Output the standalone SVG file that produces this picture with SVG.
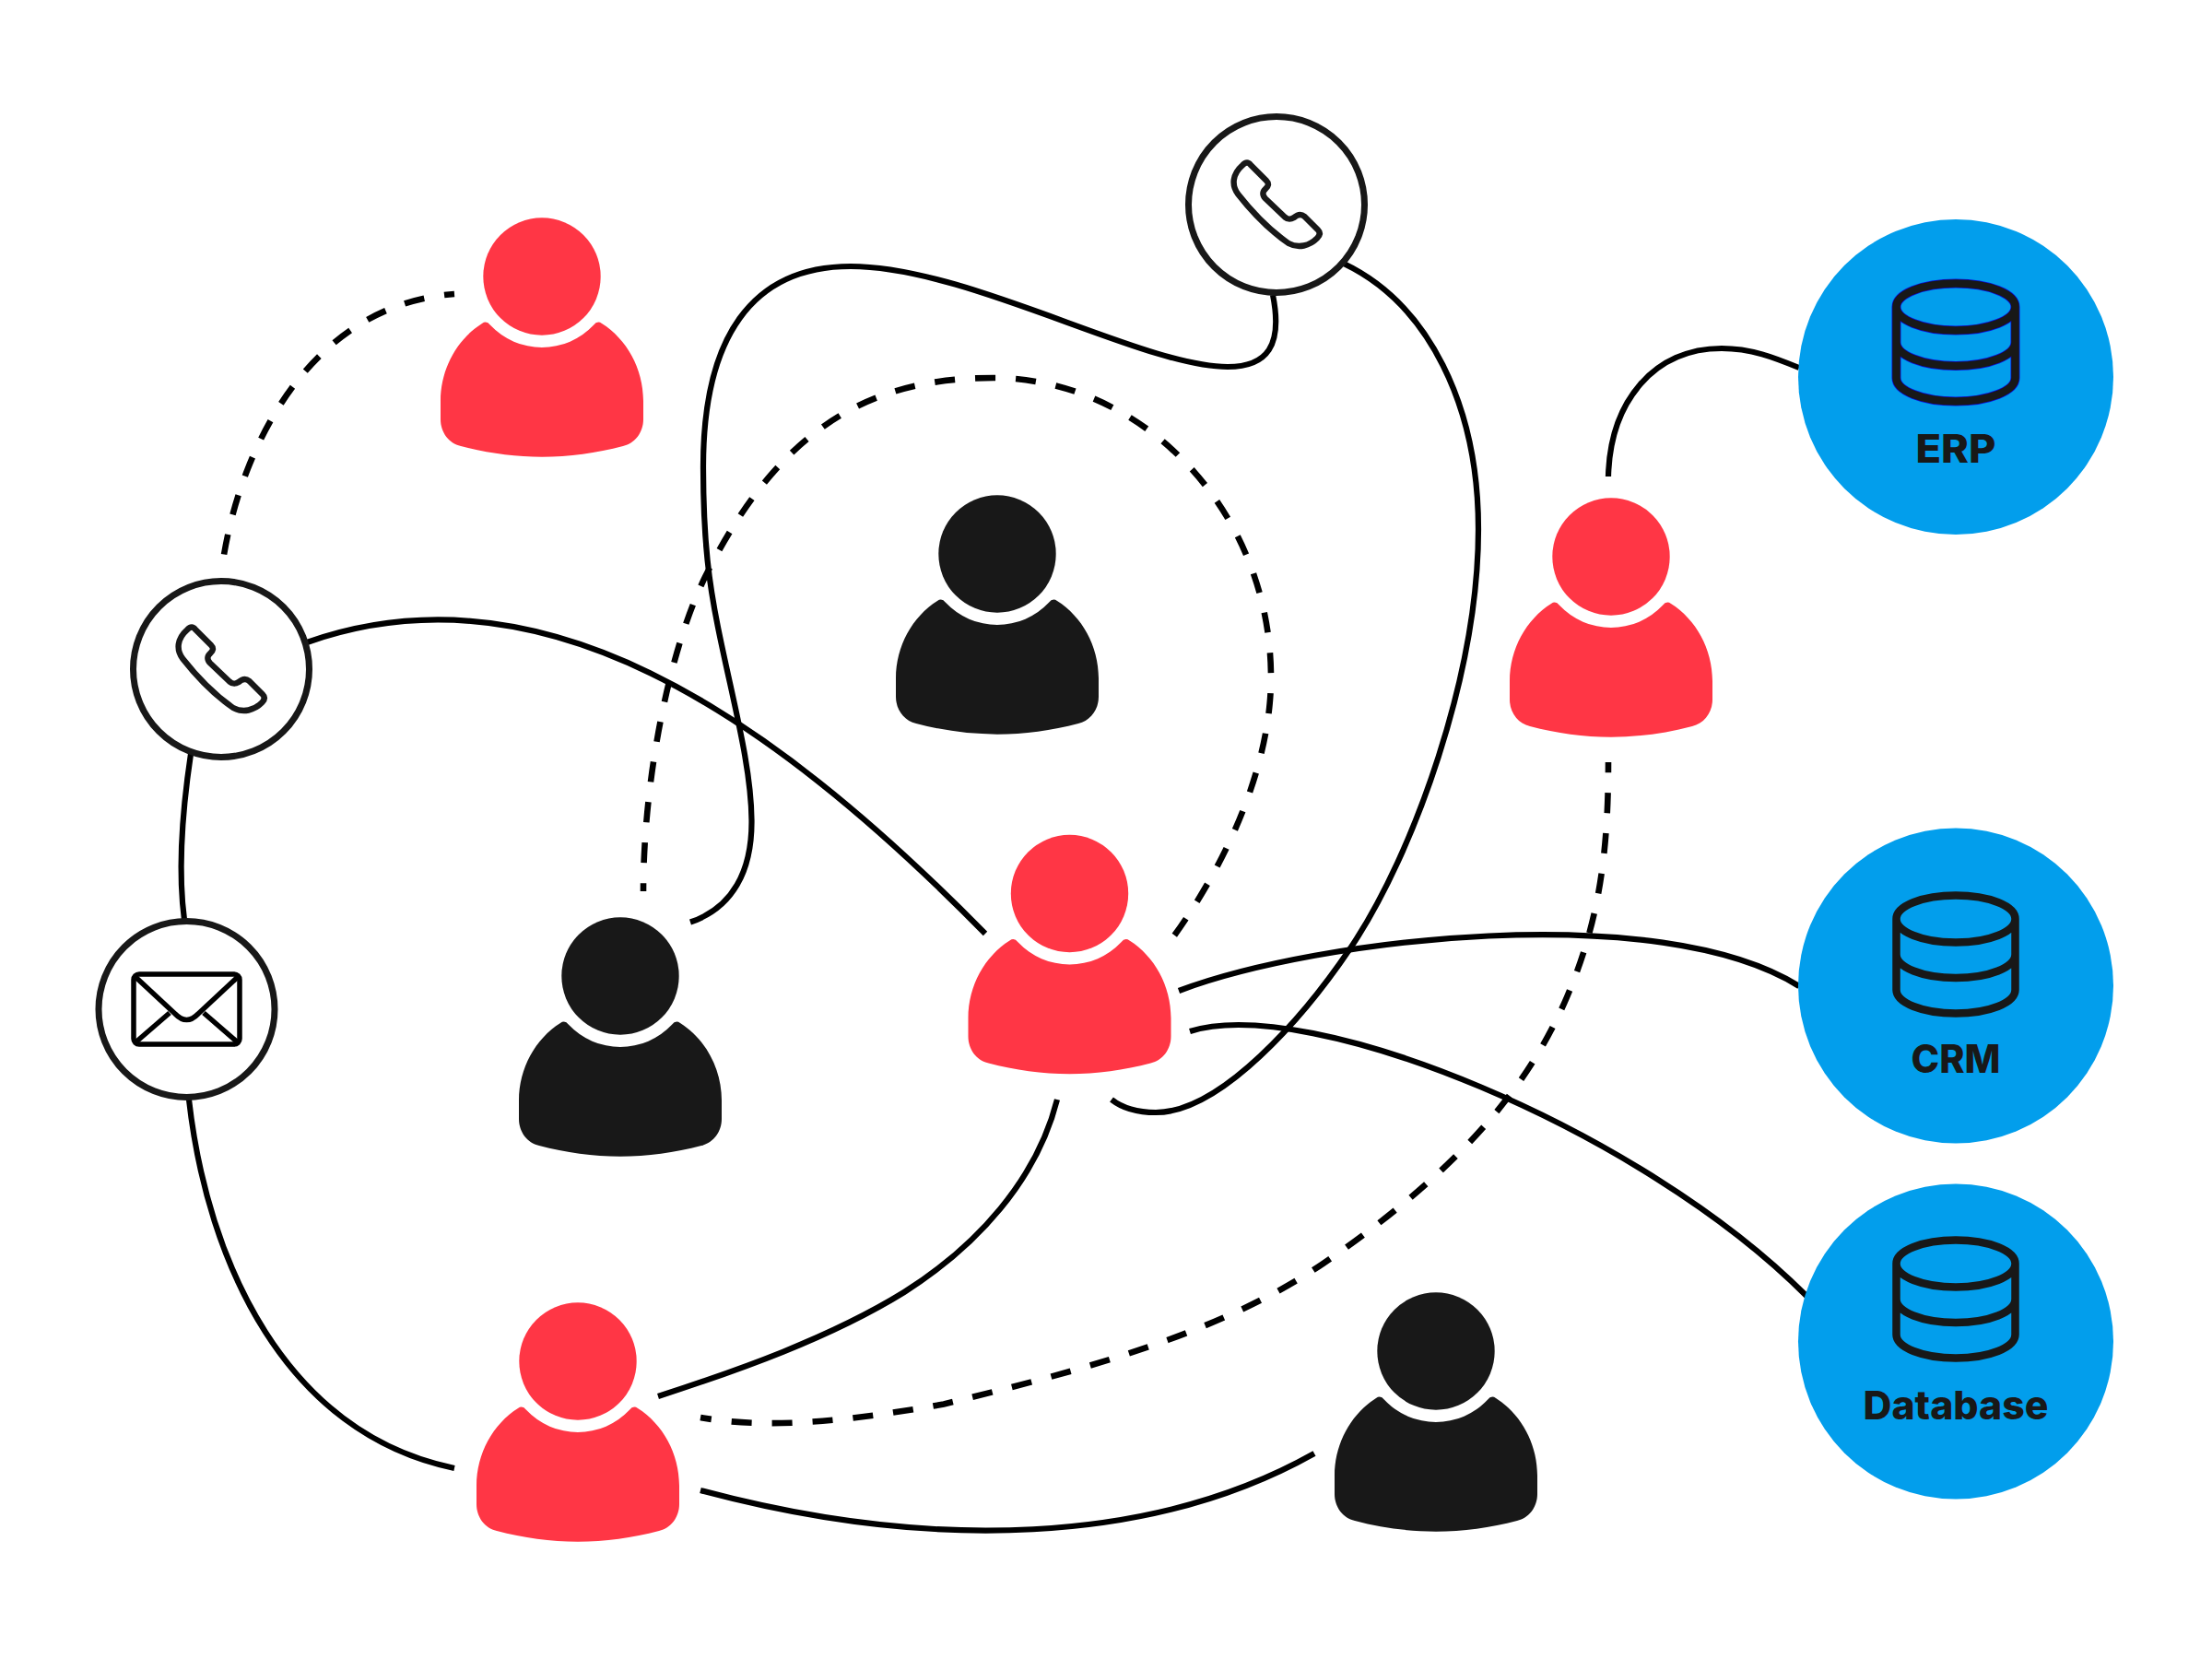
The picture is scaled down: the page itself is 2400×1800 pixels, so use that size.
<svg xmlns="http://www.w3.org/2000/svg" width="2400" height="1800" viewBox="0 0 2400 1800">
<style>
.conn{fill:none;stroke:#000;stroke-width:6.2}
.dash{stroke-width:6.6;stroke-dasharray:22 22}
.ring{fill:#fff;stroke:#181818;stroke-width:7}
.icon{fill:none;stroke:#181818;stroke-width:6.4;stroke-linejoin:round}
.mail{fill:none;stroke:#000;stroke-width:5.5;stroke-linejoin:round}
.db{fill:none;stroke:#181818;stroke-width:8.5}
.dbh{fill:none;stroke:#0c0cd8;stroke-width:10}
.blue{fill:#029eec}
.red{fill:#ff3645}
.blk{fill:#181818}
.lab{font-family:"Inter","Liberation Sans",sans-serif;font-weight:800;font-size:43px;fill:#181818;text-anchor:middle}
</style>
<defs>
<g id="person">
<circle cx="0" cy="0" r="63.700"/>
<path d="M-65 51 Q-60 47.500 -56 52.800 A77 77 0 0 0 56 52.800 Q60 47.500 65 51 C92 68 110 100 110 135 V155 C110 169 101 181 88 184 C30 199.500 -30 199.500 -88 184 C-101 181 -110 169 -110 155 V135 C-110 100 -92 68 -65 51Z"/>
</g>
<path id="phone" class="icon" d="M-32 -45.500 Q-30 -45.500 -28 -43 L-11 -26 C-8 -23 -8.500 -20 -12 -17 C-15.500 -14 -15.500 -10 -12 -6.500 L9 13.500 C12.500 16.500 15 16.500 19 14 C23 10.500 27 10 30.500 13 L45 27.500 C47.500 30 47.500 33 44 36.500 C36 44.500 24 48 13 42 C-7 28 -25 10 -41.700 -11.300 C-49 -21 -48 -33 -37 -42.700 Q-34.500 -45.500 -32 -45.500Z"/>
<path id="cyl" d="M-64.500 0 C-64.500 -14 -36 -25.500 0 -25.500 C36 -25.500 64.500 -14 64.500 0 C64.500 14 36 25.500 0 25.500 C-36 25.500 -64.500 14 -64.500 0 V77 C-64.500 91 -36 102.500 0 102.500 C36 102.500 64.500 91 64.500 77 V0 M-64.500 38.500 C-64.500 52.500 -36 64 0 64 C36 64 64.500 52.500 64.500 38.500"/>
</defs>
<rect width="2400" height="1800" fill="#fff"/>
<g id="connectors">
<path class="conn dash" stroke-dashoffset="11" d="M493 319 C340 330 262 480 242 608"/>
<path class="conn" d="M333 697 C585 608 830 770 1069 1013"/>
<path class="conn" d="M207 818 C197 885 193 945 200 998"/>
<path class="conn" d="M205 1193 C225 1370 310 1555 493 1593"/>
<path class="conn" d="M1381 320 C1392 375 1375 398 1332 398 C1240 398 1050 289 923 289 C815 289 763 367 763 506 C763 590 770 636 779 680.600 C795 760 815 830 815.500 890 C816 945 795 985 749 1000.500"/>
<path class="conn" d="M1458 286 C1550 330 1604 440 1604 574 C1604 730 1535 925 1465 1029 C1415 1103 1325 1207 1254 1207 C1236 1207 1220 1204 1206 1193"/>
<path class="conn dash" stroke-dashoffset="13" d="M698 967 C698 850 725 705 767 622 C850 458 950 410 1078 410 C1240 410 1379 555 1379 735 C1379 830 1332 935 1272 1018"/>
<path class="conn" d="M1745 517 C1747 435 1795 378 1868 378 C1900 378 1925 388 1952 399"/>
<path class="conn dash" stroke-dashoffset="10" d="M760 1538 C840 1552 930 1540 1024 1523.500 C1160 1490 1320 1450 1437 1370 C1575 1275 1655 1187 1700 1082 C1734 1002 1745 930 1745 827"/>
<path class="conn" d="M1279 1075 C1430 1018 1800 975 1952 1070"/>
<path class="conn" d="M1291 1119 C1420 1078 1780 1225 1960 1406"/>
<path class="conn" d="M714 1515 C800 1487 900 1452 981 1402 C1060 1352 1125 1280 1147 1193"/>
<path class="conn" d="M760 1617 C1010 1684 1250 1676 1426 1577"/>
</g>
<g id="person-top" class="red"><use href="#person" x="588" y="300"/></g>
<g id="person-black-center" class="blk"><use href="#person" x="1082" y="601"/></g>
<g id="person-erp" class="red"><use href="#person" x="1748" y="604"/></g>
<g id="person-center" class="red"><use href="#person" x="1160.500" y="969.500"/></g>
<g id="person-black-left" class="blk"><use href="#person" x="673" y="1059"/></g>
<g id="person-bottom" class="red"><use href="#person" x="627" y="1477"/></g>
<g id="person-black-bottom" class="blk"><use href="#person" x="1558" y="1466"/></g>
<g id="phone-top"><circle class="ring" cx="1385" cy="222" r="95.500"/><use href="#phone" x="1385" y="222"/></g>
<g id="phone-left"><circle class="ring" cx="240" cy="726" r="95.500"/><use href="#phone" x="240" y="726"/></g>
<g id="email"><circle class="ring" cx="202.500" cy="1095" r="95.500"/>
<rect class="mail" x="145" y="1057" width="115" height="76" rx="6"/>
<path class="mail" d="M147 1060 L190 1100 Q202.500 1113 215 1100 L258 1060 M147 1131 L184 1099 M258 1131 L221 1099"/></g>
<g id="erp"><circle class="blue" cx="2122" cy="409" r="171"/><use href="#cyl" class="dbh" x="2122" y="333"/><use href="#cyl" class="db" x="2122" y="333"/><text class="lab" x="2122" y="502" textLength="87" lengthAdjust="spacingAndGlyphs">ERP</text></g>
<g id="crm"><circle class="blue" cx="2122" cy="1069.500" r="171"/><use href="#cyl" class="db" x="2122" y="997"/><text class="lab" x="2122" y="1164" textLength="97" lengthAdjust="spacingAndGlyphs">CRM</text></g>
<g id="database"><circle class="blue" cx="2122" cy="1455.500" r="171"/><use href="#cyl" class="db" x="2122" y="1371"/><text class="lab" x="2122" y="1540" textLength="201" lengthAdjust="spacingAndGlyphs">Database</text></g>
</svg>
